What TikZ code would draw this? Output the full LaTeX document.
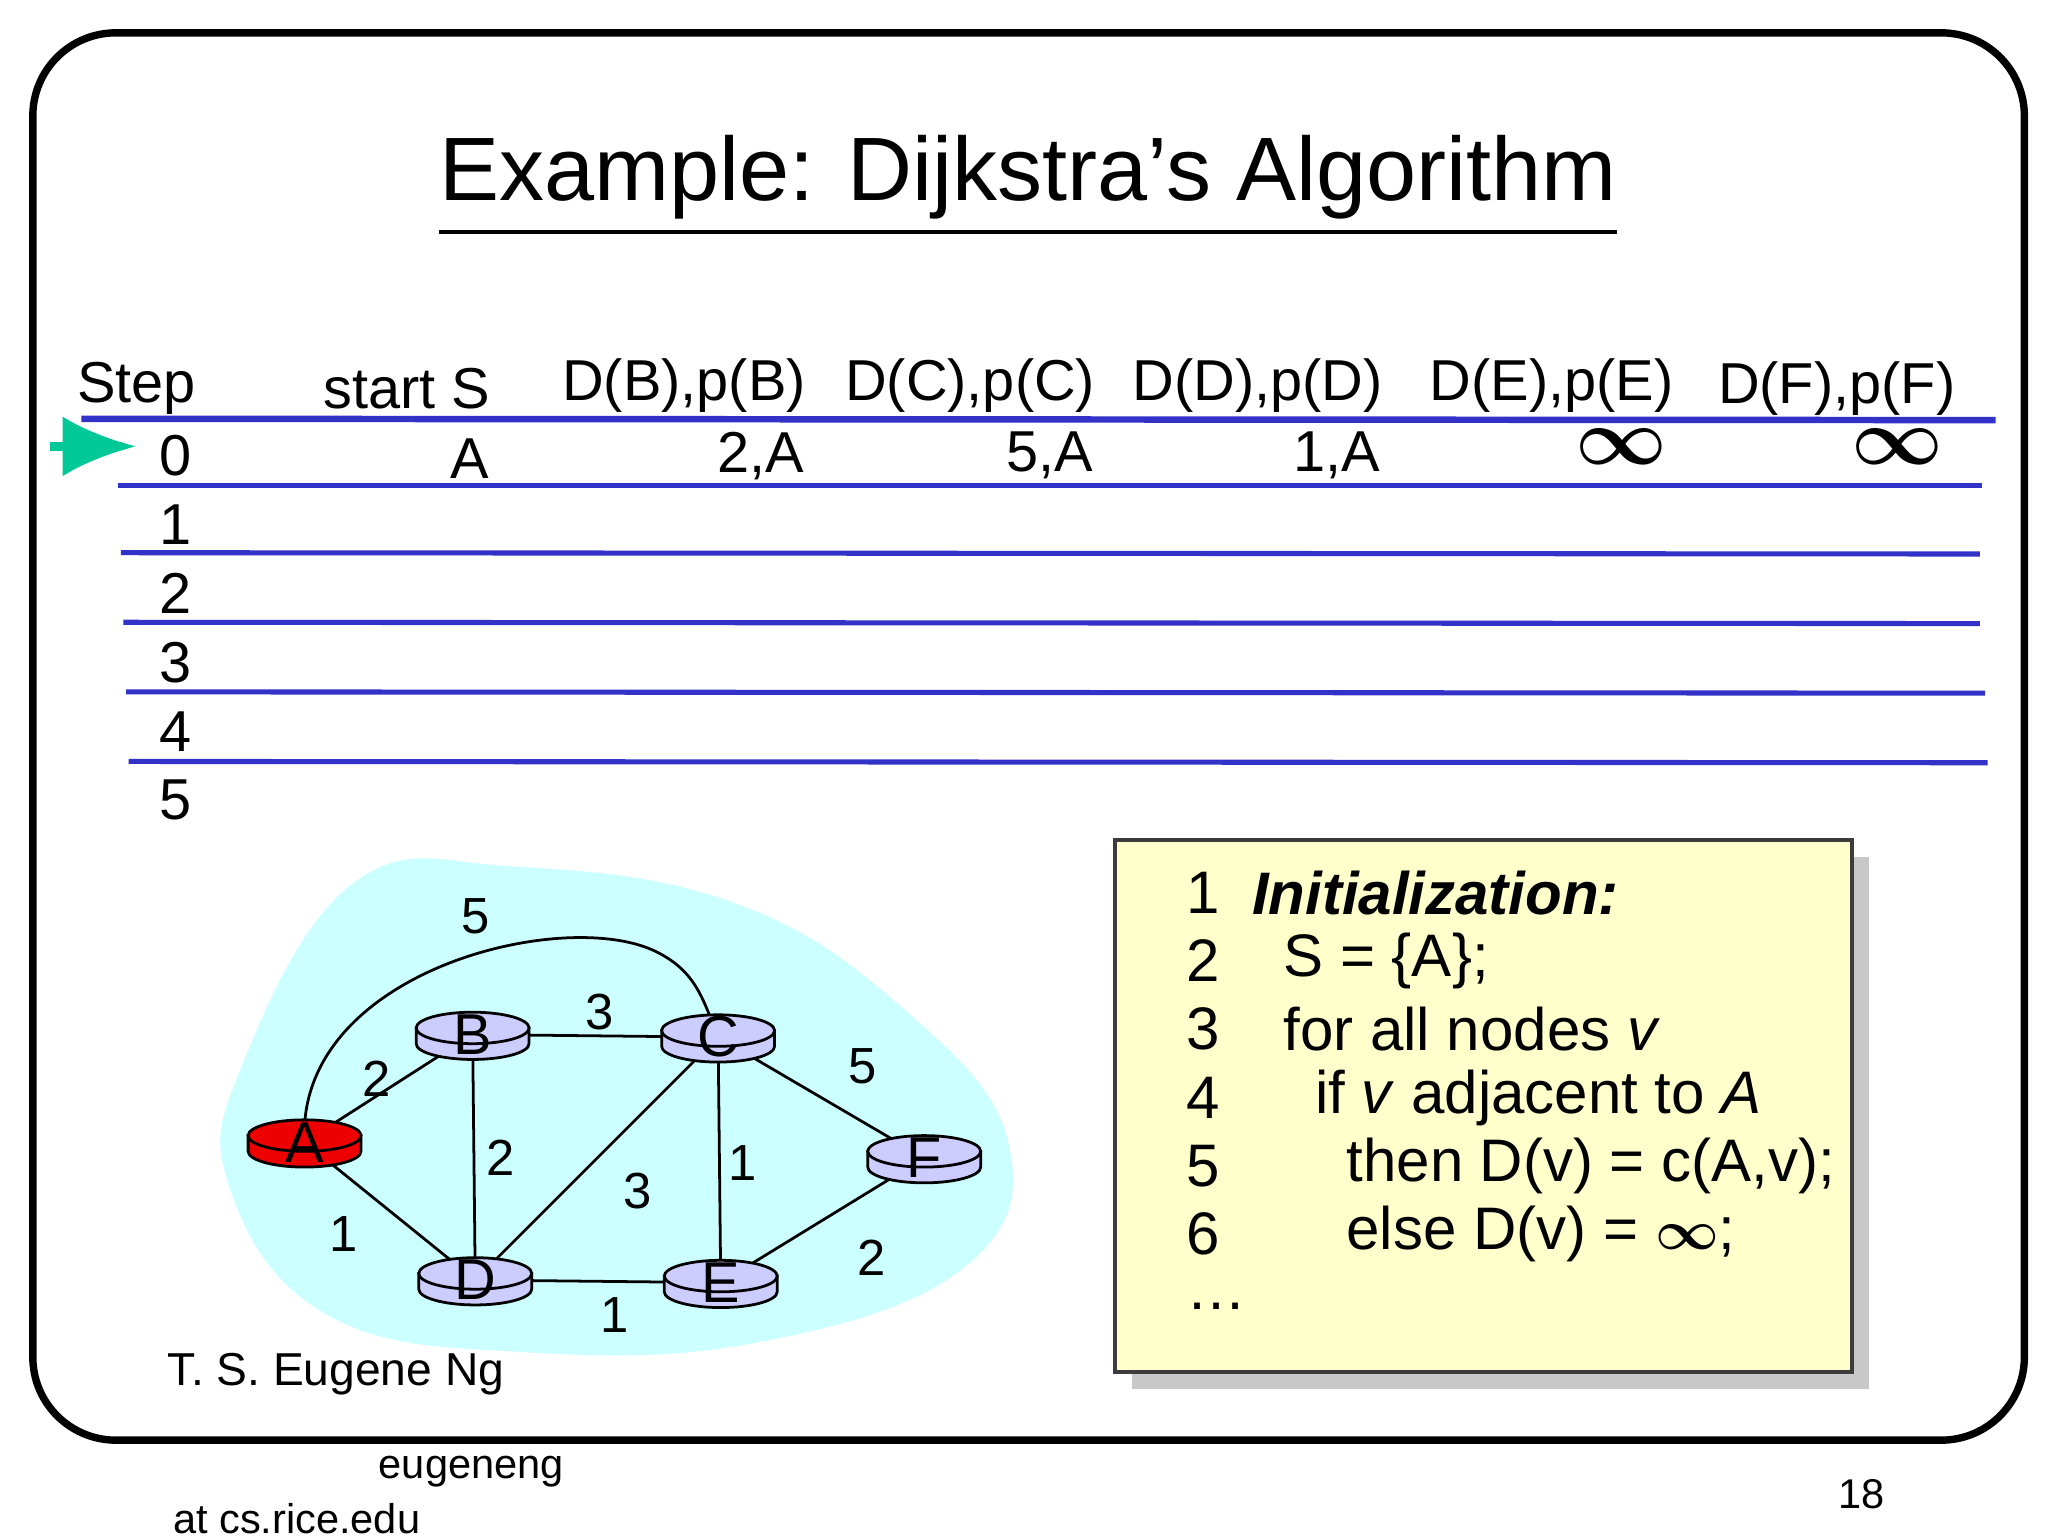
\documentclass[tikz,border=0pt]{standalone}
\usepackage{amsmath}
\usepackage{fontspec}
\setmainfont{Liberation Sans}
\usetikzlibrary{arrows.meta}
\definecolor{rowblue}{RGB}{50,50,200}
\definecolor{arrgreen}{RGB}{0,200,150}
\definecolor{cloud}{RGB}{204,255,255}
\definecolor{routA}{RGB}{238,0,0}
\definecolor{routB}{RGB}{204,204,255}
\definecolor{shadowgray}{RGB}{200,200,200}
\definecolor{boxyellow}{RGB}{255,255,204}
\definecolor{boxborder}{RGB}{60,60,60}
\begin{document}
\begin{tikzpicture}[x=0.01cm,y=-0.01cm,
  hdr/.style={font=\fontsize{12.5pt}{14pt}\selectfont, inner sep=0},
  cell/.style={font=\fontsize{12.5pt}{14pt}\selectfont, inner sep=0},
  rowline/.style={draw=rowblue, line width=1.1pt},
  edge/.style={draw=black, line width=0.6pt},
  wlab/.style={font=\fontsize{11pt}{13pt}\selectfont, inner sep=0},
  code/.style={font=\fontsize{13pt}{15pt}\selectfont, inner sep=0, anchor=west},
  foot/.style={font=\fontsize{9pt}{11pt}\selectfont, inner sep=0}]
\useasboundingbox (0,0) rectangle (1560,1170);
\fill[white] (0,0) rectangle (1560,1170);
\draw[line width=1.6pt, rounded corners=18] (25,25) rectangle (1542,1097);
\node[font=\fontsize{19.5pt}{22pt}\selectfont, inner sep=0] (title) at (783,142) {\underline{Example: Dijkstra’s Algorithm}};
% header
\node[hdr, anchor=west] (hs) at (58,296) {Step};
\node[hdr] (hS) at (310,296) {start S};
\node[hdr] (hB) at (521,294) {D(B),p(B)};
\node[hdr] (hC) at (739,294) {D(C),p(C)};
\node[hdr] (hD) at (958,294) {D(D),p(D)};
\node[hdr] (hE) at (1182,294) {D(E),p(E)};
\node[hdr] (hF) at (1399,296) {D(F),p(F)};
\coordinate (l0a) at (62,319); \coordinate (l0b) at (1520,320);
\draw[rowline, line width=1.4pt] (l0a) -- (l0b);
\coordinate (l1a) at (90,370); \coordinate (l1b) at (1510,370);
\coordinate (l2a) at (92,421); \coordinate (l2b) at (1508,422);
\coordinate (l3a) at (94,474); \coordinate (l3b) at (1508,475);
\coordinate (l4a) at (96,527); \coordinate (l4b) at (1512,528);
\coordinate (l5a) at (98,580); \coordinate (l5b) at (1514,581);
\foreach \i in {1,...,5}{\draw[rowline] (l\i a) -- (l\i b);}
\coordinate (ar0) at (38,340); \coordinate (ar1) at (104,340);
\draw[-{Latex[length=16,width=13]}, line width=2pt, draw=arrgreen, fill=arrgreen] (ar0) -- (ar1);
\node[cell] (r0) at (134,347) {0};
\node[cell] (r1) at (134,400) {1};
\node[cell] (r2) at (134,452) {2};
\node[cell] (r3) at (134,505) {3};
\node[cell] (r4) at (134,557) {4};
\node[cell] (r5) at (134,609) {5};
\node[cell] (cA) at (358,349) {A};
\node[cell, anchor=east] (cB) at (613,347) {2,A};
\node[cell, anchor=east] (cC) at (833,347) {5,A};
\node[cell, anchor=east] (cD) at (1052,347) {1,A};
\node[cell, font=\fontsize{17pt}{17pt}\selectfont] (cE) at (1235,340) {$\boldsymbol{\infty}$};
\node[cell, font=\fontsize{17pt}{17pt}\selectfont] (cF) at (1445,340) {$\boldsymbol{\infty}$};
% cloud
\fill[cloud] plot[smooth cycle, tension=0.7] coordinates {(270,672) (390,660) (560,688) (690,770) (768,870) (735,965) (580,1022) (400,1030) (250,1002) (175,905) (185,810)};
% graph
\coordinate (A) at (232,870);
\coordinate (B) at (360,788);
\coordinate (C) at (547,790);
\coordinate (D) at (362,975);
\coordinate (E) at (549,977);
\coordinate (F) at (704,882);
\draw[edge] (A) -- (B);
\draw[edge] (A) -- (D);
\draw[edge] (B) -- (C);
\draw[edge] (B) -- (D);
\draw[edge] (C) -- (D);
\draw[edge] (C) -- (E);
\draw[edge] (C) -- (F);
\draw[edge] (D) -- (E);
\draw[edge] (E) -- (F);
\draw[edge] (A) .. controls (225,740) and (430,690) .. (500,725) .. controls (530,740) and (535,760) .. (C);
\node[wlab] (w5) at (362,698) {5};
\node[wlab] (wAB) at (287,822) {2};
\node[wlab] (wAD) at (262,940) {1};
\node[wlab] (wBC) at (457,771) {3};
\node[wlab] (wBD) at (381,882) {2};
\node[wlab] (wCD) at (486,907) {3};
\node[wlab] (wCE) at (566,886) {1};
\node[wlab] (wCF) at (657,812) {5};
\node[wlab] (wDE) at (468,1002) {1};
\node[wlab] (wEF) at (664,958) {2};
\foreach \n/\col in {A/routA,B/routB,C/routB,D/routB,E/routB,F/routB}{
  \begin{scope}[shift={(\n)}]
    \filldraw[fill=\col, draw=black, line width=0.6pt] (-43,-5) -- (-43,7) arc[start angle=180,end angle=0,x radius=43,y radius=12] -- (43,-5) -- cycle;
    \filldraw[fill=\col, draw=black, line width=0.6pt] (0,-5) ellipse[x radius=43,y radius=12];
  \end{scope}
  \node[font=\fontsize{12.5pt}{14pt}\selectfont, inner sep=0] (lab\n) at (\n) {\n};
}
\node[foot, font=\fontsize{10pt}{12pt}\selectfont] (auth) at (256,1047) {T. S. Eugene Ng};
% code box
\fill[shadowgray] (862,653) rectangle (1424,1058);
\filldraw[fill=boxyellow, draw=boxborder, line width=0.9pt] (849,640) rectangle (1411,1045);
\foreach \k/\y in {1/680,2/732,3/784,4/836,5/888,6/940}{\node[code] (n\k) at (903,\y) {\k};}
\node[code] (t1) at (953,680) {\textbf{\textit{Initialization:}}};
\node[code] (t2) at (977,732) {S = \{A\};};
\node[code] (t3) at (977,784) {for all nodes \textit{v}};
\node[code] (t4) at (1001,836) {if \textit{v} adjacent to \textit{A}};
\node[code] (t5) at (1025,888) {then D(v) = c(A,v);};
\node[code] (t6) at (1025,940) {else D(v) = $\boldsymbol{\infty}$;};
\node[code] (t7) at (903,995) {…};
% footer
\node[foot] (f1) at (359,1121) {eugeneng};
\node[foot] (f2) at (226,1157) {at cs.rice.edu};
\node[foot] (f3) at (1418,1138) {18};
\end{tikzpicture}
\end{document}
